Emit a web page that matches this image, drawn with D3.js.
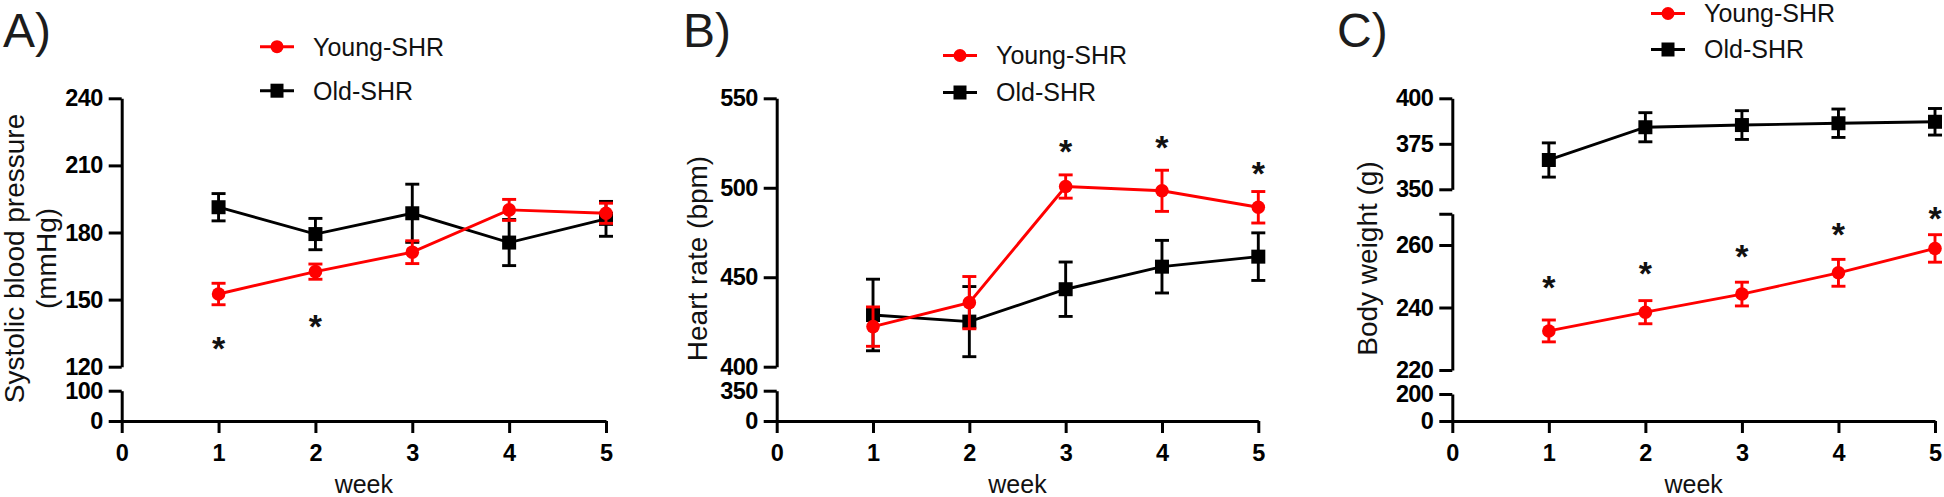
<!DOCTYPE html>
<html><head><meta charset="utf-8">
<script src="https://cdn.jsdelivr.net/npm/d3@7"></script>
<style>
html,body{margin:0;padding:0;background:#fff;}
svg{display:block;font-family:"Liberation Sans",Arial,sans-serif;}
</style></head><body>
<svg id="chart" width="1944" height="497"></svg>
<script>
// ---------- DATA ----------
const weeks = [1, 2, 3, 4, 5];
const weekTicks = [0, 1, 2, 3, 4, 5];
const seriesNames = ["Young-SHR", "Old-SHR"];
const xTitle = "week";

// Panel A: systolic blood pressure (mmHg)
const sbpYoung    = [152.5, 162.5, 171.2, 190.1, 188.6];
const sbpYoungSem = [4.8, 3.4, 5.1, 4.7, 4.5];
const sbpOld      = [191.3, 179.3, 188.6, 175.5, 186.1];
const sbpOldSem   = [6.1, 7.0, 13.0, 10.3, 7.8];
const sbpStars    = [131.6, 141.6, null, null, null];
const sbpTicksLower = [0, 100];
const sbpTicksUpper = [120, 150, 180, 210, 240];

// Panel B: heart rate (bpm)
const hrYoung    = [422.4, 435.8, 500.7, 498.3, 489.1];
const hrYoungSem = [11.0, 14.6, 6.5, 11.5, 8.8];
const hrOld      = [428.9, 425.2, 443.3, 455.9, 461.5];
const hrOldSem   = [20.0, 19.6, 15.2, 14.7, 13.3];
const hrStars    = [null, null, 524.9, 527.2, 512.4];
const hrTicksLower = [0, 350];
const hrTicksUpper = [400, 450, 500, 550];

// Panel C: body weight (g)
const bwYoung    = [232.5, 238.5, 244.3, 251.1, 258.9];
const bwYoungSem = [3.5, 3.7, 3.8, 4.3, 4.4];
const bwOld      = [366.1, 384.1, 385.3, 386.3, 387.1];
const bwOldSem   = [9.4, 8.0, 7.9, 7.8, 7.3];
const bwStars    = [249.0, 253.6, 258.9, 265.9, 271.2];
const bwTicksLower = [0, 200];
const bwTicksMid   = [220, 240, 260];
const bwTicksTop   = [350, 375, 400];

// ---------- LAYOUT ----------
const RED = "#ff0000", BLACK = "#000000";
const AXIS_Y = 421;
const panels = [
  { label: "A)", labelX: 3, titles: ["Systolic blood pressure", "(mmHg)"], titleX: [23.5, 55.5],
    young: sbpYoung, youngSem: sbpYoungSem, old: sbpOld, oldSem: sbpOldSem, stars: sbpStars,
    x0: 121.7, x5: 606,
    segments: [
      { domain: [0, 100], range: [AXIS_Y, 390.7], ticks: sbpTicksLower },
      { domain: [120, 240], range: [366.7, 98.3], ticks: sbpTicksUpper }
    ],
    legend: { x: 260, y: [46.7, 90.7] } },
  { label: "B)", labelX: 683, titles: ["Heart rate (bpm)"], titleX: [707],
    young: hrYoung, youngSem: hrYoungSem, old: hrOld, oldSem: hrOldSem, stars: hrStars,
    x0: 776.7, x5: 1258.3,
    segments: [
      { domain: [0, 350], range: [AXIS_Y, 390.7], ticks: hrTicksLower },
      { domain: [400, 550], range: [366.7, 98.3], ticks: hrTicksUpper }
    ],
    legend: { x: 943, y: [55.5, 92.5] } },
  { label: "C)", labelX: 1337, titles: ["Body weight (g)"], titleX: [1376.5],
    young: bwYoung, youngSem: bwYoungSem, old: bwOld, oldSem: bwOldSem, stars: bwStars,
    x0: 1452.3, x5: 1935,
    segments: [
      { domain: [0, 200], range: [AXIS_Y, 394], ticks: bwTicksLower },
      { domain: [220, 270], range: [370, 213.75], ticks: bwTicksMid, extra: [270] },
      { domain: [350, 400], range: [189.3, 98.3], ticks: bwTicksTop }
    ],
    legend: { x: 1651, y: [13.5, 49.5] } }
];

const svg = d3.select("#chart");
svg.append("rect").attr("width", 1944).attr("height", 497).attr("fill", "#fff");

function makeY(segs) {
  const scales = segs.map(s => d3.scaleLinear().domain(s.domain).range(s.range));
  return v => {
    let best = 0, bd = Infinity;
    segs.forEach((s, i) => {
      const d = v < s.domain[0] ? s.domain[0] - v : (v > s.domain[1] ? v - s.domain[1] : 0);
      if (d < bd) { bd = d; best = i; }
    });
    return scales[best](v);
  };
}

const AX_W = 3;
const STAR_FS = 34;

panels.forEach(p => {
  const g = svg.append("g");
  const x = d3.scaleLinear().domain([0, 5]).range([p.x0, p.x5]);
  const Y = makeY(p.segments);

  // panel label
  g.append("text").attr("x", p.labelX).attr("y", 47)
    .attr("font-size", 48).attr("fill", "#1c1c1c").text(p.label);

  // y-axis segments
  p.segments.forEach(s => {
    const sc = d3.scaleLinear().domain(s.domain).range(s.range);
    const vals = s.ticks.concat(s.extra || []);
    const ax = d3.axisLeft(sc).tickValues(vals).tickSize(13).tickSizeOuter(0).tickPadding(6)
      .tickFormat(d => s.ticks.includes(d) ? d : "");
    const ag = g.append("g").attr("transform", `translate(${p.x0},0)`).call(ax);
    ag.select(".domain").attr("stroke", BLACK).attr("stroke-width", AX_W);
    ag.selectAll(".tick line").attr("stroke", BLACK).attr("stroke-width", AX_W);
    ag.selectAll(".tick text").attr("fill", BLACK).attr("font-size", 23.5)
      .attr("font-weight", "bold").attr("letter-spacing", -0.6)
      .attr("font-family", '"Liberation Sans", Arial, sans-serif');
  });

  // x-axis
  const xa = d3.axisBottom(x).tickValues(weekTicks).tickSize(12).tickSizeOuter(0).tickPadding(11)
    .tickFormat(d3.format("d"));
  const xg = g.append("g").attr("transform", `translate(0,${AXIS_Y})`).call(xa);
  xg.select(".domain").attr("stroke", BLACK).attr("stroke-width", AX_W);
  xg.selectAll(".tick line").attr("stroke", BLACK).attr("stroke-width", AX_W);
  xg.selectAll(".tick text").attr("fill", BLACK).attr("font-size", 23.5)
    .attr("font-weight", "bold").attr("font-family", '"Liberation Sans", Arial, sans-serif');

  // x title
  g.append("text").attr("x", (p.x0 + p.x5) / 2).attr("y", 493)
    .attr("text-anchor", "middle").attr("font-size", 25).attr("fill", "#111").text(xTitle);

  // y titles
  const cy = 258.5;
  p.titles.forEach((t, i) => {
    g.append("text").attr("transform", `translate(${p.titleX[i]},${cy}) rotate(-90)`)
      .attr("text-anchor", "middle").attr("font-size", 28).attr("fill", "#111").text(t);
  });

  // series: old first, then young on top
  const series = [
    { vals: p.old, sem: p.oldSem, color: BLACK, shape: "square" },
    { vals: p.young, sem: p.youngSem, color: RED, shape: "circle" }
  ];
  series.forEach(s => {
    const sg = g.append("g");
    weeks.forEach((w, i) => {
      const cx = x(w), yt = Y(s.vals[i] + s.sem[i]), yb = Y(s.vals[i] - s.sem[i]);
      sg.append("line").attr("x1", cx).attr("x2", cx).attr("y1", yt).attr("y2", yb)
        .attr("stroke", s.color).attr("stroke-width", 2.9);
      [yt, yb].forEach(yy => sg.append("line").attr("x1", cx - 7).attr("x2", cx + 7)
        .attr("y1", yy).attr("y2", yy).attr("stroke", s.color).attr("stroke-width", 2.9));
    });
    const line = d3.line().x((d, i) => x(weeks[i])).y(d => Y(d));
    sg.append("path").datum(s.vals).attr("d", line).attr("fill", "none")
      .attr("stroke", s.color).attr("stroke-width", 2.9);
    weeks.forEach((w, i) => {
      if (s.shape === "circle") {
        sg.append("circle").attr("cx", x(w)).attr("cy", Y(s.vals[i])).attr("r", 6.8).attr("fill", s.color);
      } else {
        sg.append("rect").attr("x", x(w) - 7).attr("y", Y(s.vals[i]) - 7)
          .attr("width", 14).attr("height", 14).attr("fill", s.color);
      }
    });
  });

  // significance stars
  weeks.forEach((w, i) => {
    if (p.stars[i] == null) return;
    g.append("text").attr("x", x(w)).attr("y", Y(p.stars[i]) + 0.58 * STAR_FS)
      .attr("text-anchor", "middle").attr("font-size", STAR_FS).attr("font-weight", "bold")
      .attr("fill", "#111").text("*");
  });

  // legend
  const lx = p.legend.x;
  [{ name: seriesNames[0], color: RED, shape: "circle" },
   { name: seriesNames[1], color: BLACK, shape: "square" }].forEach((it, k) => {
    const ly = p.legend.y[k];
    g.append("line").attr("x1", lx).attr("x2", lx + 34).attr("y1", ly).attr("y2", ly)
      .attr("stroke", it.color).attr("stroke-width", 3);
    if (it.shape === "circle") {
      g.append("circle").attr("cx", lx + 17).attr("cy", ly).attr("r", 6.5).attr("fill", it.color);
    } else {
      g.append("rect").attr("x", lx + 10.5).attr("y", ly - 7).attr("width", 13).attr("height", 14).attr("fill", it.color);
    }
    g.append("text").attr("x", lx + 53).attr("y", ly + 8.9).attr("font-size", 25)
      .attr("fill", "#111").text(it.name);
  });
});
</script>
</body></html>
